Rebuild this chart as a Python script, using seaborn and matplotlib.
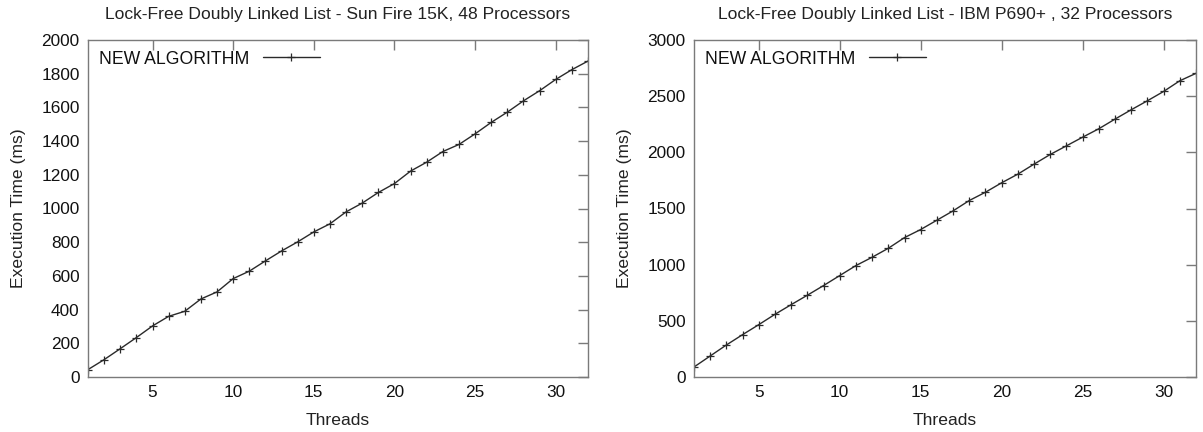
import numpy as np
import pandas as pd
import matplotlib
matplotlib.use("Agg")
import matplotlib.pyplot as plt
import seaborn as sns

# Threads on the x axis (1..32)
threads = list(range(1, 33))

# Execution time (ms), Sun Fire 15K, 48 processors
sun_ms = [44, 103, 168, 234, 303, 360, 390, 463, 505, 584, 628, 689, 748, 802, 861, 909,
          980, 1032, 1095, 1148, 1222, 1275, 1338, 1380, 1443, 1511, 1572, 1639, 1699, 1766, 1824, 1875]

# Execution time (ms), IBM P690+, 32 processors
ibm_ms = [89, 187, 285, 377, 466, 558, 644, 728, 814, 903, 992, 1066, 1146, 1241, 1313, 1396,
          1479, 1571, 1645, 1729, 1806, 1895, 1981, 2058, 2135, 2210, 2296, 2379, 2459, 2542, 2637, 2703]

titles = ["Lock-Free Doubly Linked List - Sun Fire 15K, 48 Processors",
          "Lock-Free Doubly Linked List - IBM P690+ , 32 Processors"]
series_name = "NEW ALGORITHM"

sns.set_style("white")
plt.rcParams["font.family"] = ["Liberation Sans", "DejaVu Sans"]

fig = plt.figure(figsize=(12.03, 4.32), dpi=100)
ax1 = fig.add_axes([88 / 1203, 55 / 432, 500 / 1203, 337 / 432])
ax2 = fig.add_axes([694 / 1203, 55 / 432, 502 / 1203, 337 / 432])

frame_col = "#7a7a7a"
line_col = "#2a2a2a"


def draw_panel(ax, values, title, ymax, ystep):
    df = pd.DataFrame({"Threads": threads, "ms": values, "series": series_name})
    sns.lineplot(data=df, x="Threads", y="ms", hue="series", palette=[line_col],
                 marker="+", markersize=6, markeredgewidth=0.9, linewidth=1.0,
                 markeredgecolor=line_col, ax=ax)
    ax.set_xlim(1, 32)
    ax.set_ylim(0, ymax)
    ax.set_xticks([5, 10, 15, 20, 25, 30])
    ax.set_yticks(np.arange(0, ymax + 1, ystep))
    ax.tick_params(direction="in", length=7, width=1, color=frame_col,
                   top=True, right=True, labelsize=12.4, labelcolor="#111111", pad=6)
    for s in ax.spines.values():
        s.set_color(frame_col)
        s.set_linewidth(1.0)
        s.set_visible(True)
    ax.set_xlabel("Threads", fontsize=12.6, color="#222222", labelpad=9)
    ax.set_ylabel("Execution Time (ms)", fontsize=12.6, color="#222222", labelpad=11)
    ax.text(0.5, 1.062, title, transform=ax.transAxes, ha="center", va="baseline",
            fontsize=12.6, color="#222222")
    leg = ax.legend(loc="upper left", frameon=False, markerfirst=False,
                    handlelength=3.2, fontsize=12.7, borderaxespad=0.2,
                    bbox_to_anchor=(0.0, 1.0))
    for t in leg.get_texts():
        t.set_color("#111111")


draw_panel(ax1, sun_ms, titles[0], 2000, 200)
draw_panel(ax2, ibm_ms, titles[1], 3000, 500)

fig.savefig("out.png", dpi=100)
